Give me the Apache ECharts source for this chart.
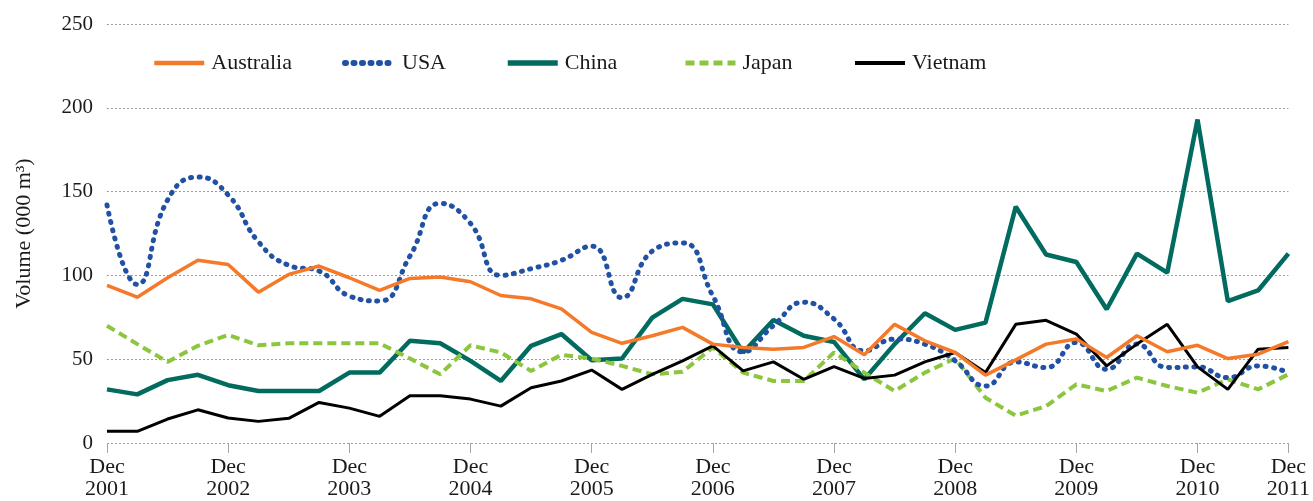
<!DOCTYPE html>
<html>
<head>
<meta charset="utf-8">
<script src="https://cdn.jsdelivr.net/npm/echarts@6/dist/echarts.min.js"></script>
<style>html,body{margin:0;padding:0;background:#fff}#c{width:1313px;height:501px}</style>
</head>
<body>
<div id="c"></div>
<script>
var categories = [
  "Dec 2001","Mar 2002","Jun 2002","Sep 2002","Dec 2002","Mar 2003","Jun 2003","Sep 2003",
  "Dec 2003","Mar 2004","Jun 2004","Sep 2004","Dec 2004","Mar 2005","Jun 2005","Sep 2005",
  "Dec 2005","Mar 2006","Jun 2006","Sep 2006","Dec 2006","Mar 2007","Jun 2007","Sep 2007",
  "Dec 2007","Mar 2008","Jun 2008","Sep 2008","Dec 2008","Mar 2009","Jun 2009","Sep 2009",
  "Dec 2009","Mar 2010","Jun 2010","Sep 2010","Dec 2010","Mar 2011","Jun 2011","Dec 2011"
];
var tickIndices = [0,4,8,12,16,20,24,28,32,36,39];
var yTicks = [0,50,100,150,200,250];

var australia = [94,87,98.6,109,106.5,90,100.6,105.6,98.6,91,98.2,99,96.2,88,86,80,66,59.5,64,69,59,57,56,57,63.5,52.6,70.8,61,54,40.5,49.6,59,62,51,64,54.4,58.3,50.4,53,60.5];
var usa = [142,94.6,145,158.7,148,120,106,102.6,87.7,84.7,111.5,143,131,100,104,109,117.5,86.7,114.5,119.4,87.7,54.3,70,84,74,55,62,59,49,34,48.4,45,60,44,59,45,45.4,39,46,42];
var china = [32,29,37.5,40.7,34.5,31,31,31,42,42,61,59.5,49,37,58,65,49.4,50.4,74.8,86,82.7,54,73.4,64,60.3,38,59,77.4,67.5,71.8,141,112.5,108,79.8,113,101.6,193,84.7,91,113];
var japan = [70,59,48.4,58,64.5,58.3,59.5,59.5,59.5,59.5,50.4,41,58.3,54,43,52.6,50.4,46,41,42.5,57,42,37,37,54,42,31,42,50.4,27,16.3,22,35,31,39,34,30,38,32,41];
var vietnam = [7,7,14.3,19.8,14.9,12.9,14.7,24.2,20.8,15.9,28.2,28.2,26.2,22,33,37,43.5,32,41,49,58,43,48.4,38,45.6,38.5,40.5,48.4,54,42,70.8,73.2,65,46,59,70.8,45.4,32,56,57];

var FONT = '"Liberation Serif","Times New Roman",serif';
var chart = echarts.init(document.getElementById('c'), null, {renderer:'canvas'});

function showTick(i){ return tickIndices.indexOf(i) >= 0; }

var styles = {
  Australia:{color:'#F47A2A', width:3.5, type:'solid'},
  USA:{color:'#2151A5', width:5, type:[1,7.5], cap:'round'},
  China:{color:'#006B5E', width:4.5, type:'solid'},
  Japan:{color:'#8CC63F', width:4, type:[9,5]},
  Vietnam:{color:'#000000', width:3, type:'solid'}
};

function legend(name, left){
  var s = styles[name];
  return {
    data:[name], left:left, top:52, padding:0, itemWidth:50, itemHeight:22, itemGap:0,
    itemStyle:{opacity:0, color:'rgba(0,0,0,0)', borderWidth:0},
    lineStyle:{width:s.width + 1, color:s.color, type:s.type, cap:s.cap || 'butt'},
    textStyle:{fontFamily:FONT, fontSize:22, color:'#1a1a1a', padding:[0,0,0,2]}
  };
}

function series(name, data, extra){
  var s = styles[name];
  var o = {name:name, type:'line', data:data, symbol:'none',
    lineStyle:{color:s.color, width:s.width, type:s.type, cap:s.cap || 'butt'},
    itemStyle:{color:s.color}};
  for (var k in extra) o[k] = extra[k];
  return o;
}

chart.setOption({
  animation:false,
  backgroundColor:'#ffffff',
  grid:{left:107, right:15, top:24, bottom:58, containLabel:false},
  legend:[legend('Australia',152), legend('USA',342), legend('China',505), legend('Japan',683), legend('Vietnam',853)],
  xAxis:{
    type:'category', data:categories, boundaryGap:false,
    axisLine:{show:false},
    axisTick:{show:true, interval:function(i){return showTick(i);}, length:10, lineStyle:{color:'#a6a6a6', width:1}},
    axisLabel:{interval:function(i){return showTick(i);}, formatter:function(v){return v.replace(' ','\n');},
      fontFamily:FONT, fontSize:22, color:'#1a1a1a', lineHeight:22, margin:13},
    splitLine:{show:false}
  },
  yAxis:{
    type:'value', min:0, max:250, interval:50,
    name:'Volume (000 m³)', nameLocation:'middle', nameGap:72,
    nameTextStyle:{fontFamily:FONT, fontSize:22, color:'#1a1a1a'},
    axisLine:{show:false}, axisTick:{show:false},
    axisLabel:{fontFamily:FONT, fontSize:21, color:'#1a1a1a', margin:14},
    splitLine:{lineStyle:{color:'#9a9a9a', width:1, type:[2,2]}}
  },
  series:[
    series('Australia', australia, {z:3}),
    series('USA', usa, {z:2, smooth:0.5}),
    series('China', china, {z:1}),
    series('Japan', japan, {z:1}),
    series('Vietnam', vietnam, {z:2})
  ]
});
</script>
</body>
</html>
